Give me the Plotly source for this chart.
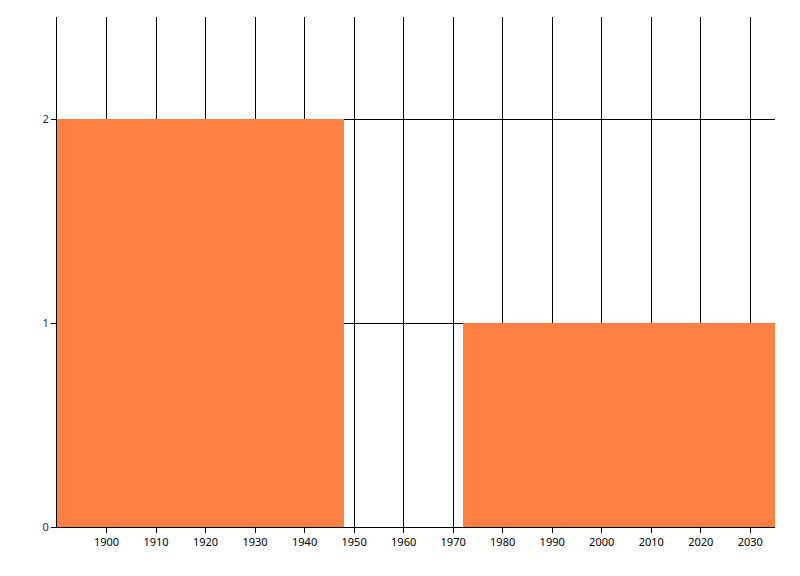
import plotly.graph_objects as go

bin_start = [1890, 1972]
bin_end = [1948, 2035]
counts = [2, 1]
x_ticks = list(range(1900, 2031, 10))
y_ticks = [0, 1, 2]

centers = [(a + b) / 2 for a, b in zip(bin_start, bin_end)]
widths = [b - a for a, b in zip(bin_start, bin_end)]

fig = go.Figure(go.Bar(x=centers, y=counts, width=widths,
                       marker=dict(color="#FF8042", line=dict(width=0))))

fig.update_layout(
    width=800, height=576,
    margin=dict(l=49, r=33, t=9, b=57),
    paper_bgcolor="white", plot_bgcolor="white",
    showlegend=False,
    font=dict(family="Noto Sans", size=11, color="black"),
    bargap=0,
)
fig.update_xaxes(range=[1890, 2035], tickvals=x_ticks, ticktext=[str(v) for v in x_ticks],
                 showgrid=True, gridcolor="black", gridwidth=1,
                 showline=True, linecolor="black", linewidth=1,
                 ticks="outside", ticklen=5, tickcolor="black", zeroline=False,
                 tickfont=dict(size=11, color="black"))
fig.update_yaxes(range=[0, 2.5], tickvals=y_ticks, ticktext=[str(v) for v in y_ticks],
                 showgrid=True, gridcolor="black", gridwidth=1,
                 showline=True, linecolor="black", linewidth=1,
                 ticks="outside", ticklen=5, tickcolor="black", zeroline=False,
                 tickfont=dict(size=11, color="#1a2a4a"))

fig.write_html("out.html")
